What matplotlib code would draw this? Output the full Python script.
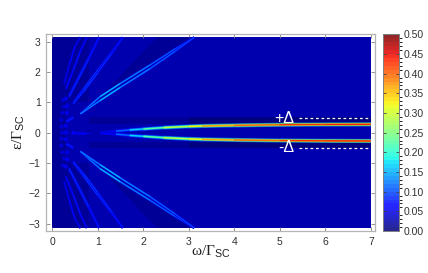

import matplotlib
matplotlib.use("Agg")
import matplotlib.pyplot as plt
import numpy as np
from matplotlib.cm import ScalarMappable
from matplotlib.collections import LineCollection
from matplotlib.colors import BoundaryNorm

plt.rcParams["font.family"] = ["Liberation Sans", "DejaVu Sans"]
plt.rcParams["mathtext.fontset"] = "custom"
plt.rcParams["mathtext.rm"] = "Liberation Serif"
plt.rcParams["mathtext.it"] = "Liberation Serif"
plt.rcParams["mathtext.sf"] = "Liberation Sans"

W, H = 428, 273
GREY = "#b4b4b4"

# background cells: one row per epsilon band (upper half, mirrored below)
omega_edges = [0.0, 0.3, 0.8, 3.0, 7.0]
eps_edges = [0.0, 0.2, 0.3, 0.5, 1.0, 3.14]
bg_upper = [
    [0.018, 0.022, 0.020, 0.020],
    [0.018, 0.022, 0.020, 0.022],
    [0.018, 0.022, 0.011, 0.008],
    [0.018, 0.024, 0.028, 0.027],
    [0.014, 0.016, 0.026, 0.027],
]

# darker wedges next to the fan of ridges
wedge_omega = [
    [0.75, 3.05, 2.30],
    [0.70, 3.14, 3.45, 3.45],
]
wedge_eps = [
    [0.70, 3.14, 3.14],
    [0.55, 3.14, 3.14, 2.80],
]
wedge_val = [0.016, 0.022]

# central ridge pair
central_omega = [1.05, 1.4, 1.7, 2.0, 2.44, 3.0, 3.3, 4.0, 5.0, 6.0, 7.0]
central_eps = [0.01, 0.05, 0.09, 0.12, 0.165, 0.205, 0.22, 0.24, 0.26, 0.27, 0.275]
central_val = [0.04, 0.08, 0.14, 0.19, 0.25, 0.31, 0.34, 0.38, 0.41, 0.43, 0.44]

# short stretch of the centre line, left of the ridge pair
stub_omega = [0.41, 0.55, 0.74, 0.85]
stub_eps = [0.0, 0.0, 0.0, 0.0]
stub_val = [0.05, 0.08, 0.05, 0.03]

# short bright streak at the foot of the fan
streak_omega = [0.31, 0.38, 0.46]
streak_eps = [0.36, 0.43, 0.50]
streak_val = [0.05, 0.09, 0.05]

# fan of double ridges (upper half, mirrored below)
fan_omega = [
    [0.62, 1.05, 1.5, 2.15, 2.7, 3.12],
    [0.46, 0.7, 1.0, 1.3, 1.55],
    [0.37, 0.55, 0.8, 1.03],
    [0.30, 0.45, 0.62, 0.76],
    [0.26, 0.38, 0.50, 0.62],
]
fan_eps = [
    [0.62, 1.12, 1.56, 2.17, 2.72, 3.14],
    [0.97, 1.42, 2.02, 2.62, 3.14],
    [1.20, 1.72, 2.45, 3.14],
    [1.45, 2.02, 2.70, 3.14],
    [1.60, 2.25, 2.85, 3.14],
]
fan_split = [
    [0.0, 0.065, 0.065, 0.06, 0.04, 0.0],
    [0.02, 0.05, 0.045, 0.03, 0.0],
    [0.02, 0.035, 0.03, 0.0],
    [0.01, 0.02, 0.02, 0.0],
    [0.0, 0.0, 0.0, 0.0],
]
fan_val = [
    [0.08, 0.18, 0.15, 0.12, 0.11, 0.09],
    [0.07, 0.10, 0.09, 0.08, 0.07],
    [0.07, 0.09, 0.08, 0.07],
    [0.06, 0.07, 0.07, 0.06],
    [0.05, 0.06, 0.06, 0.05],
]

# small blobs near the origin
spot_omega = [0.47, 0.30, 0.22, 0.20, 0.30, 0.20, 0.22, 0.32, 0.26, 0.33, 0.24, 0.30]
spot_eps = [0.0, 0.0, 0.0, 0.20, 0.22, 0.42, 0.65, 0.65, 0.85, 0.88, 1.08, 1.12]
spot_val = [0.06, 0.05, 0.04, 0.04, 0.05, 0.04, 0.04, 0.05, 0.045, 0.05, 0.04, 0.05]

cbar_levels = np.linspace(0.0, 0.5, 51)
cbar_ticks = [0.0, 0.05, 0.10, 0.15, 0.20, 0.25, 0.30, 0.35, 0.40, 0.45, 0.50]
x_ticks = [0, 1, 2, 3, 4, 5, 6, 7]
y_ticks = [-3, -2, -1, 0, 1, 2, 3]

cmap = plt.get_cmap("jet", 50)
norm = BoundaryNorm(cbar_levels, 50)


def px_rect(left, right, top, bottom):
    """Pixel box of the reference -> figure fractions."""
    return [left / W, 1 - bottom / H, (right - left) / W, (bottom - top) / H]


def ridge(ax, omega, eps, val, lw=0.9):
    """Ridge as a polyline: soft halo first, then the core on top."""
    omega = np.asarray(omega, float)
    eps = np.asarray(eps, float)
    val = np.asarray(val, float)
    pts = np.column_stack([omega, eps])
    segs = np.stack([pts[:-1], pts[1:]], axis=1)
    mid = 0.5 * (val[:-1] + val[1:])
    for scale, width, alpha in [(0.4, lw * 2.2, 0.6), (0.7, lw * 1.5, 0.8), (1.0, lw * 0.8, 1.0)]:
        lc = LineCollection(segs, colors=cmap(norm(mid * scale)), linewidths=width,
                            alpha=alpha, capstyle="butt", zorder=3)
        ax.add_collection(lc)


fig = plt.figure(figsize=(W / 100, H / 100), dpi=100)
ax = fig.add_axes(px_rect(46.3, 374.5, 34.0, 231.0))
ax.set_xlim(-0.13, 7.08)
ax.set_ylim(-3.24, 3.25)

# ---- background ----
eps_all = [-e for e in eps_edges[:0:-1]] + eps_edges
bg_all = np.vstack([np.array(bg_upper)[::-1], np.array(bg_upper)])
ax.pcolormesh(omega_edges, eps_all, bg_all, cmap=cmap, norm=norm, zorder=1)

for om, ep, v in zip(wedge_omega, wedge_eps, wedge_val):
    for sign in (1, -1):
        ax.fill(om, sign * np.array(ep), color=cmap(norm(v)), lw=0, zorder=2)

# ---- ridges ----
for sign in (1, -1):
    ridge(ax, central_omega, sign * np.array(central_eps), central_val, lw=1.35)
    ridge(ax, streak_omega, sign * np.array(streak_eps), streak_val, lw=1.6)
    for om, ep, sp, v in zip(fan_omega, fan_eps, fan_split, fan_val):
        ep, sp = np.array(ep), np.array(sp)
        ridge(ax, om, sign * (ep + sp), v, lw=0.85)
        ridge(ax, om, sign * (ep - sp), v, lw=0.85)
    ax.scatter(spot_omega, sign * np.array(spot_eps), c=np.array(spot_val) * 0.6, cmap=cmap,
               norm=norm, s=14, lw=0, alpha=0.7, zorder=4)
    ax.scatter(spot_omega, sign * np.array(spot_eps), c=spot_val, cmap=cmap, norm=norm,
               s=5, lw=0, zorder=4)
ridge(ax, stub_omega, stub_eps, stub_val, lw=1.3)

# ---- +Delta / -Delta markers ----
ax.plot([5.42, 6.95], [0.48, 0.48], color="white", lw=0.9, ls=(0, (2.2, 2.2)), zorder=5)
ax.plot([5.42, 6.95], [-0.5, -0.5], color="white", lw=0.9, ls=(0, (2.2, 2.2)), zorder=5)
ax.text(5.32, 0.48, "+Δ", color="white", fontsize=11.5, ha="right", va="center", zorder=6)
ax.text(5.32, -0.5, "-Δ", color="white", fontsize=11.5, ha="right", va="center", zorder=6)

# ---- axes ----
ax.set_xticks(x_ticks)
ax.set_yticks(y_ticks)
ax.tick_params(direction="in", length=3, width=0.6, color="#808080", top=True, right=True,
               labelsize=7.5, labelcolor="#303030", pad=4)
for s in ax.spines.values():
    s.set_color(GREY)
    s.set_linewidth(0.9)
ax.set_xlabel(r"$\omega/\Gamma_{\mathsf{SC}}$", fontsize=11, labelpad=-2, color="#202020")
ax.set_ylabel(r"$\epsilon/\Gamma_{\mathsf{SC}}$", fontsize=11, labelpad=1, color="#202020")

# ---- colourbar ----
cax = fig.add_axes(px_rect(382.7, 399.3, 34.3, 231.0))
sm = ScalarMappable(norm=norm, cmap=cmap)
cb = fig.colorbar(sm, cax=cax, ticks=cbar_ticks, spacing="proportional", drawedges=False, alpha=0.85)
cb.ax.set_yticklabels([f"{t:.2f}" for t in cbar_ticks])
cb.ax.tick_params(direction="in", length=2.5, width=0.6, color="#404040", left=True, right=True,
                  labelsize=7.5, labelcolor="#303030", pad=3)
cb.outline.set_edgecolor("#808080")
cb.outline.set_linewidth(0.7)

fig.savefig("out.png", dpi=100)
plt.close(fig)
